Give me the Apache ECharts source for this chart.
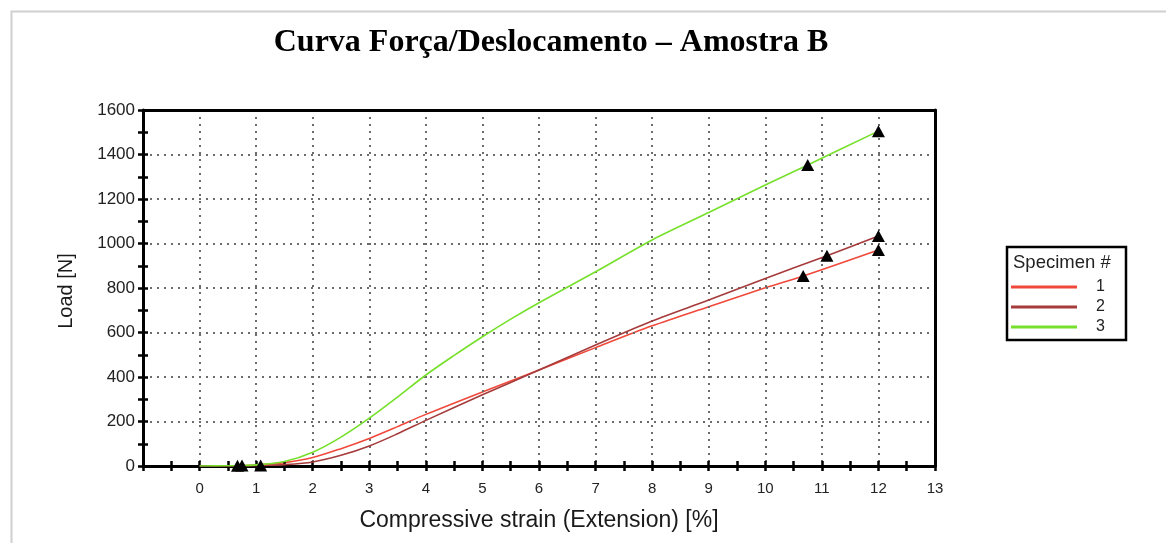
<!DOCTYPE html>
<html>
<head>
<meta charset="utf-8">
<script src="https://cdn.jsdelivr.net/npm/echarts@6/dist/echarts.min.js"></script>
<style>
  html, body { margin: 0; padding: 0; background: #fff; }
  #chart { width: 1166px; height: 543px; }
</style>
</head>
<body>
<div id="chart"></div>
<script>
// Strain [%] / load [N] readings for each specimen
const strain1 = [0, 0.5, 0.67, 1, 1.5, 2, 2.5, 3, 3.5, 4, 5, 6, 7, 8, 9, 10, 10.67, 12];
const load1   = [0, 1, 1, 5, 15, 38, 78, 124, 177, 232, 333, 431, 532, 630, 716, 801, 854, 971];

const strain2 = [0, 0.5, 1, 1.08, 1.5, 2, 2.5, 3, 3.5, 4, 5, 6, 7, 8, 9, 10, 11.09, 12];
const load2   = [0, 0, 1, 2, 6, 18, 48, 90, 145, 205, 320, 431, 544, 652, 746, 843, 945, 1034];

const strain3 = [0, 0.5, 0.75, 1, 1.5, 2, 2.5, 3, 3.5, 4, 4.5, 5, 5.5, 6, 7, 8, 9, 10, 10.75, 12];
const load3   = [0, 1, 2, 5, 20, 62, 130, 215, 310, 409, 497, 581, 660, 734, 873, 1016, 1139, 1263, 1353, 1505];

// Triangle markers (start, intermediate, end) for each specimen
const marks1 = [[0.67, 1], [10.67, 854], [12, 971]];
const marks2 = [[1.08, 2], [11.09, 945], [12, 1034]];
const marks3 = [[0.75, 2], [10.75, 1353], [12, 1505]];

const specimenNames = ['1', '2', '3'];
const specimenColors = ['#f0483a', '#a63b3b', '#76e02c'];

const xTickMin = -1, xTickMax = 13, xTickStep = 1;
const yTickMin = 0, yTickMax = 1600, yTickStep = 200;

const chartTitle = 'Curva Força/Deslocamento – Amostra B';
const xName = 'Compressive strain (Extension) [%]';
const yName = 'Load [N]';
const legendTitle = 'Specimen #';

function pairs(xs, ys) { return xs.map((x, i) => [x, ys[i]]); }

const curves = [pairs(strain1, load1), pairs(strain2, load2), pairs(strain3, load3)];
const marks = [marks1, marks2, marks3];

const font = 'Liberation Sans, Arial, sans-serif';
const axisBlack = { color: '#000', width: 3 };
const dotted = { show: true, showMinLine: false, showMaxLine: false,
                 lineStyle: { color: '#6c6c6c', width: 2, type: [2, 5] } };

const tickStyle = { show: true, length: 5, lineStyle: { color: '#000', width: 2.5 } };
const minorStyle = { show: true, splitNumber: 2, length: 5, lineStyle: { color: '#000', width: 2.5 } };

function xAxisBase(extra) {
  return Object.assign({
    type: 'value', min: xTickMin, max: xTickMax, interval: xTickStep, position: 'bottom',
    axisLine: { show: false, onZero: false }, axisTick: { show: false }, axisLabel: { show: false },
    splitLine: { show: false },
  }, extra);
}
function yAxisBase(extra) {
  return Object.assign({
    type: 'value', min: yTickMin, max: yTickMax, interval: yTickStep, position: 'left',
    axisLine: { show: false, onZero: false }, axisTick: { show: false }, axisLabel: { show: false },
    splitLine: { show: false },
  }, extra);
}

const chart = echarts.init(document.getElementById('chart'), null, { renderer: 'canvas' });

const series = [];
curves.forEach((data, i) => {
  series.push({
    name: specimenNames[i], type: 'line', xAxisIndex: 0, yAxisIndex: 0,
    data: data, symbol: 'none', smooth: 0.3, z: 3 + i,
    lineStyle: { color: specimenColors[i], width: 1.6 },
    itemStyle: { color: specimenColors[i] },
  });
});
marks.forEach((data) => {
  series.push({
    type: 'scatter', xAxisIndex: 0, yAxisIndex: 0, data: data,
    symbol: 'triangle', symbolSize: [13, 12], z: 10,
    itemStyle: { color: '#000', opacity: 1 }, silent: true,
  });
});

chart.setOption({
  animation: false,
  backgroundColor: '#fff',
  grid: { left: 143, right: 231, top: 110, bottom: 77 },
  xAxis: [
    // main axis: line, crossing ticks (outer half), labels, dotted grid
    xAxisBase({
      z: 4,
      axisLine: { show: true, onZero: false, lineStyle: axisBlack },
      axisTick: tickStyle,
      minorTick: minorStyle,
      axisLabel: {
        color: '#222', fontFamily: font, fontSize: 15, margin: 15,
        formatter: v => (v < 0 ? '' : String(v)),
      },
      splitLine: dotted,
    }),
    // inner half of the crossing ticks
    xAxisBase({ z: 4, axisTick: Object.assign({ inside: true }, tickStyle), minorTick: minorStyle }),
    // top frame
    xAxisBase({ z: 4, position: 'top', axisLine: { show: true, onZero: false, lineStyle: axisBlack } }),
  ],
  yAxis: [
    yAxisBase({
      z: 4,
      axisLine: { show: true, onZero: false, lineStyle: axisBlack },
      axisTick: tickStyle,
      minorTick: minorStyle,
      axisLabel: { color: '#222', fontFamily: font, fontSize: 17, margin: 8, formatter: v => String(v) },
      splitLine: dotted,
    }),
    yAxisBase({ z: 4, axisTick: Object.assign({ inside: true }, tickStyle), minorTick: minorStyle }),
    // right frame
    yAxisBase({ z: 4, position: 'right', axisLine: { show: true, onZero: false, lineStyle: axisBlack } }),
  ],
  legend: {
    data: specimenNames,
    orient: 'vertical',
    left: 1011, top: 279, padding: 0,
    itemWidth: 66, itemHeight: 3, itemGap: 4,
    icon: 'rect',
    textStyle: { color: '#222', fontFamily: font, fontSize: 16, padding: [0, 0, 0, 14] },
    selectedMode: false,
    z: 5,
  },
  graphic: [
    { type: 'rect', left: 9, top: 9, z: -1, silent: true,
      shape: { x: 0, y: 0, width: 1200, height: 600 },
      style: { fill: 'none', stroke: '#cfcfcf', lineWidth: 2 } },
    { type: 'text', x: 551, y: 43, silent: true,
      style: { text: chartTitle, fill: '#000', font: 'bold 32px "Liberation Serif", "Times New Roman", serif',
               textAlign: 'center', textVerticalAlign: 'middle' } },
    { type: 'text', x: 539, y: 521, silent: true,
      style: { text: xName, fill: '#1a1a1a', font: '23px ' + font, textAlign: 'center', textVerticalAlign: 'middle' } },
    { type: 'text', x: 66, y: 291, rotation: Math.PI / 2, silent: true,
      style: { text: yName, fill: '#1a1a1a', font: '20px ' + font, textAlign: 'center', textVerticalAlign: 'middle' } },
    { type: 'rect', silent: true, z: 0,
      shape: { x: 1007, y: 247, width: 119, height: 93 },
      style: { fill: '#fff', stroke: '#000', lineWidth: 2.5 } },
    { type: 'text', x: 1013, y: 263, silent: true,
      style: { text: legendTitle, fill: '#222', font: '18.5px ' + font, textAlign: 'left', textVerticalAlign: 'middle' } },
  ],
  series: series,
});
</script>
</body>
</html>
